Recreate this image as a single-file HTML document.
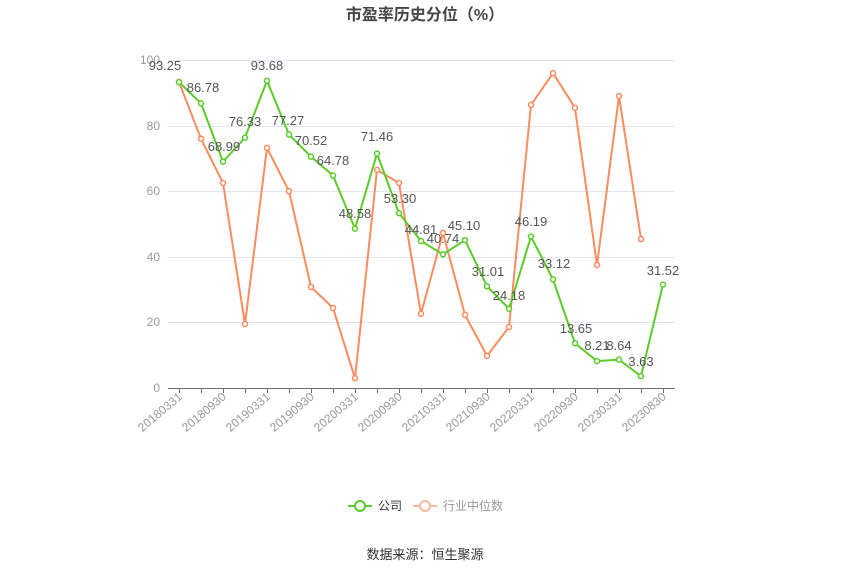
<!DOCTYPE html><html><head><meta charset="utf-8"><style>body{margin:0;background:#fff}svg{display:block;font-family:"Liberation Sans","Noto Sans CJK SC",sans-serif}</style></head><body>
<svg width="850" height="575" viewBox="0 0 850 575" xmlns="http://www.w3.org/2000/svg">
<text x="425" y="20" text-anchor="middle" font-size="16" font-weight="bold" fill="#464646">市盈率历史分位（%）</text>
<g stroke="#e0e6f1" stroke-width="1">
<line x1="168" x2="675" y1="60.5" y2="60.5"/><line x1="168" x2="675" y1="126.5" y2="126.5"/><line x1="168" x2="675" y1="191.5" y2="191.5"/><line x1="168" x2="675" y1="257.5" y2="257.5"/><line x1="168" x2="675" y1="322.5" y2="322.5"/>
</g>
<line x1="168" x2="675" y1="388.5" y2="388.5" stroke="#6e7079"/>
<g font-size="12" fill="#999" text-anchor="end">
<text x="160" y="64">100</text><text x="160" y="130">80</text><text x="160" y="195">60</text><text x="160" y="261">40</text><text x="160" y="326">20</text><text x="160" y="392">0</text>
</g>
<g id="ticks" stroke="#6e7079"></g>
<g id="xl" font-size="12" fill="#999" text-anchor="end"></g>
<polyline id="ind" fill="none" stroke="#fa8c5e" stroke-width="2"/>
<polyline id="com" fill="none" stroke="#5ccb2a" stroke-width="2"/>
<g id="pts"></g>
<g id="lbl" font-size="13" fill="#555" text-anchor="middle"></g>
<line x1="348" x2="372" y1="506" y2="506" stroke="#5ccb2a" stroke-width="2"/><circle cx="360" cy="506" r="5" fill="#fff" stroke="#5ccb2a" stroke-width="2"/>
<text x="378" y="510" font-size="12" fill="#333">公司</text>
<line x1="413" x2="437" y1="506" y2="506" stroke="#fcb89a" stroke-width="2"/><circle cx="425" cy="506" r="5" fill="#fff" stroke="#fcb89a" stroke-width="2"/>
<text x="443" y="510" font-size="12" fill="#999">行业中位数</text>
<text x="425" y="559" text-anchor="middle" font-size="13" fill="#333">数据来源：恒生聚源</text>
<script>
var X=i=>179+22*i,Y=v=>388-3.28*v;
var c=[93.25,86.78,68.99,76.33,93.68,77.27,70.52,64.78,48.58,71.46,53.30,44.81,40.74,45.10,31.01,24.18,46.19,33.12,13.65,8.21,8.64,3.63,31.52];
var ind=[93.3,76,62.5,19.5,73.2,60,30.8,24.4,3,66.5,62.5,22.6,47.3,22.3,9.8,18.6,86.3,96,85.4,37.5,89,45.4];
var L=[[165,66],[203,88],[224,147],[245,122],[267,66],[288,121],[311,141],[333,161],[355,214],[377,137],[400,199],[421,230],[443,239],[464,226],[488,272],[509,296],[531,222],[554,264],[576,329],[597,346],[619,346],[641,362],[663,271]];
var xs=["20180331","20180930","20190331","20190930","20200331","20200930","20210331","20210930","20220331","20220930","20230331","20230830"];
var ns="http://www.w3.org/2000/svg";
function el(t,a,p){var e=document.createElementNS(ns,t);for(var k in a)e.setAttribute(k,a[k]);document.getElementById(p).appendChild(e);return e;}
document.getElementById("com").setAttribute("points",c.map((v,i)=>X(i)+","+Y(v)).join(" "));
document.getElementById("ind").setAttribute("points",ind.map((v,i)=>X(i)+","+Y(v)).join(" "));
ind.forEach((v,i)=>el("circle",{cx:X(i),cy:Y(v),r:2.5,fill:"#fff",stroke:"#fa8c5e","stroke-width":1.5},"pts"));
c.forEach((v,i)=>{el("circle",{cx:X(i),cy:Y(v),r:2.5,fill:"#fff",stroke:"#5ccb2a","stroke-width":1.5},"pts");
var t=el("text",{x:L[i][0],y:L[i][1]+4},"lbl");t.textContent=v.toFixed(2);});
for(var i=0;i<23;i++)el("line",{x1:X(i)+.5,x2:X(i)+.5,y1:388,y2:393},"ticks");
xs.forEach((s,j)=>{var x=X(2*j)+4,y=398;var t=el("text",{x:x,y:y,transform:"rotate(-40 "+x+" "+y+")"},"xl");t.textContent=s;});
</script>
</svg></body></html>
